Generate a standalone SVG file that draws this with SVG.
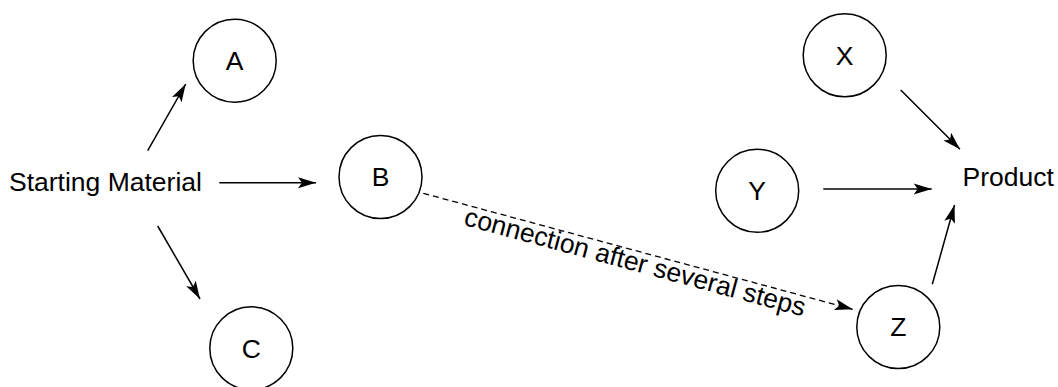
<svg xmlns="http://www.w3.org/2000/svg" width="1058" height="387" viewBox="0 0 1058 387">
  <style>
    .node circle { fill: #ffffff; stroke: #000000; stroke-width: 1.5; }
    .lbl { font-family: "Liberation Sans", Arial, Helvetica, sans-serif; font-size: 26.5px; fill: #000000; }
    .mid { text-anchor: middle; }
    .edge { stroke: #000000; stroke-width: 1.5; fill: none; marker-end: url(#head); }
    .dashed { stroke-width: 1.3; stroke-dasharray: 6 4; }
  </style>
  <defs>
    <marker id="head" markerUnits="userSpaceOnUse" markerWidth="20" markerHeight="14" viewBox="-19 -7 20 14" refX="0" refY="0" orient="auto">
      <path d="M0,0 L-18,-5.5 L-14,0 L-18,5.5 Z" fill="#000000"/>
    </marker>
  </defs>
  <rect width="1058" height="387" fill="#ffffff"/>

  <!-- plain text endpoints -->
  <g id="starting-material">
    <text class="lbl" x="9" y="190.5">Starting Material</text>
  </g>
  <g id="product">
    <text class="lbl" x="962.5" y="185.5">Product</text>
  </g>

  <!-- circled intermediates -->
  <g id="node-a" class="node">
    <circle cx="234.7" cy="60.7" r="41.5"/>
    <text class="lbl mid" x="234.7" y="70">A</text>
  </g>
  <g id="node-b" class="node">
    <circle cx="380.5" cy="177" r="41.5"/>
    <text class="lbl mid" x="380.5" y="186.3">B</text>
  </g>
  <g id="node-c" class="node">
    <circle cx="251.3" cy="348.3" r="41.5"/>
    <text class="lbl mid" x="251.3" y="357.6">C</text>
  </g>
  <g id="node-x" class="node">
    <circle cx="844.7" cy="55.3" r="41.5"/>
    <text class="lbl mid" x="844.7" y="64.6">X</text>
  </g>
  <g id="node-y" class="node">
    <circle cx="757.2" cy="190.8" r="41.5"/>
    <text class="lbl mid" x="757.2" y="200.1">Y</text>
  </g>
  <g id="node-z" class="node">
    <circle cx="898.3" cy="327" r="41.5"/>
    <text class="lbl mid" x="898.3" y="336.3">Z</text>
  </g>

  <!-- connectors -->
  <g id="connectors">
    <line class="edge" x1="147.7" y1="150.7" x2="185.7" y2="84"/>
    <line class="edge" x1="219.3" y1="182.7" x2="316" y2="182.7"/>
    <line class="edge" x1="157.7" y1="226" x2="200" y2="299"/>
    <line class="edge dashed" x1="423.3" y1="193.3" x2="852.7" y2="309.3"/>
    <line class="edge" x1="900.7" y1="90" x2="960" y2="149.3"/>
    <line class="edge" x1="823.3" y1="189" x2="931.7" y2="189"/>
    <line class="edge" x1="932.3" y1="284.3" x2="954.5" y2="205"/>
    <g transform="translate(638 251.3) rotate(15.1)">
      <text class="lbl mid" x="0" y="20">connection after several steps</text>
    </g>
  </g>
</svg>
